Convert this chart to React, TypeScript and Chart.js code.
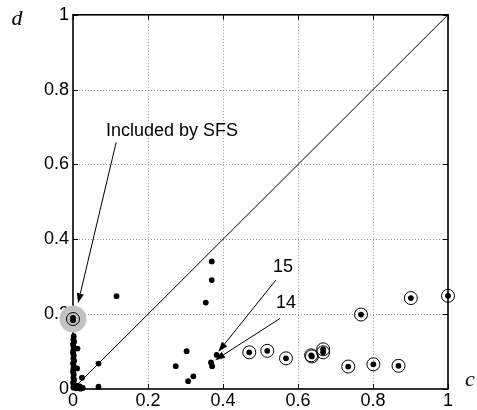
import { useEffect, useRef } from "react";
import { Chart, registerables } from "chart.js";

Chart.register(...registerables);

// ---- data ----
const X_TICKS = [0, 0.2, 0.4, 0.6, 0.8, 1];
const Y_TICKS = [0, 0.2, 0.4, 0.6, 0.8, 1];

// plain (un-circled) points
const plainC = [
  0.116, 0.37, 0.37, 0.354, 0.383, 0.368, 0.371, 0.303, 0.274, 0.307, 0.321,
  0.068, 0.068, 0.024, 0.012, 0.011,
  0.002, 0.001, 0.003, 0.0, 0.002, 0.001, 0.0, 0.002, 0.001, 0.003, 0.0, 0.002,
  0.001, 0.0, 0.002, 0.001, 0.003, 0.0, 0.002, 0.001,
  0.008, 0.014, 0.02, 0.026, 0.01, 0.018,
];
const plainD = [
  0.248, 0.341, 0.291, 0.231, 0.091, 0.071, 0.061, 0.101, 0.061, 0.021, 0.034,
  0.068, 0.006, 0.03, 0.108, 0.055,
  0.141, 0.133, 0.126, 0.119, 0.112, 0.104, 0.097, 0.09, 0.082, 0.075, 0.068, 0.061,
  0.053, 0.046, 0.039, 0.031, 0.024, 0.017, 0.01, 0.004,
  0.002, 0.004, 0.001, 0.003, 0.009, 0.007,
];

// circled points (dot + ring)
const circledC = [0.47, 0.518, 0.568, 0.635, 0.637, 0.667, 0.667, 0.734, 0.801, 0.868, 0.768, 0.901, 1.0];
const circledD = [0.098, 0.102, 0.082, 0.09, 0.087, 0.106, 0.098, 0.06, 0.066, 0.062, 0.199, 0.243, 0.249];

// feature included by SFS (highlighted)
const sfsC = [0, 0];
const sfsD = [0.184, 0.19];

// diagonal c = d
const diagC = [0, 1];
const diagD = [0, 1];

// annotations
const ANNOT_TEXT = ["Included by SFS", "15", "14"];
const ANNOT_C = [0.088, 0.56, 0.568];
const ANNOT_D = [0.689, 0.325, 0.231];
const ANNOT_ALIGN: CanvasTextAlign[] = ["left", "center", "center"];
const ARROW_FROM_C = [0.115, 0.541, 0.552];
const ARROW_FROM_D = [0.659, 0.291, 0.1885];
const ARROW_TO_C = [0.0133, 0.3875, 0.379];
const ARROW_TO_D = [0.229, 0.0995, 0.077];
const X_TITLE = "c";
const Y_TITLE = "d";

const FONT = "'Liberation Sans', Arial, Helvetica, sans-serif";
const SERIF = "'Liberation Serif', 'Times New Roman', serif";

const pts = (cs: number[], ds: number[]) => cs.map((c, i) => ({ x: c, y: ds[i] }));

const fmt = (v: number) => String(Number(Number(v).toFixed(1)));

const decor = {
  id: "decor",
  beforeDatasetsDraw(chart: any) {
    const { ctx, chartArea: a, scales } = chart;
    const xs = scales.x;
    const ys = scales.y;
    ctx.save();
    // dotted grid
    ctx.strokeStyle = "#9a9a9a";
    ctx.lineWidth = 1;
    ctx.setLineDash([1, 2]);
    X_TICKS.slice(1, -1).forEach((v) => {
      const px = Math.round(xs.getPixelForValue(v)) + 0.5;
      ctx.beginPath();
      ctx.moveTo(px, a.top);
      ctx.lineTo(px, a.bottom);
      ctx.stroke();
    });
    Y_TICKS.slice(1, -1).forEach((v) => {
      const py = Math.round(ys.getPixelForValue(v)) + 0.5;
      ctx.beginPath();
      ctx.moveTo(a.left, py);
      ctx.lineTo(a.right, py);
      ctx.stroke();
    });
    ctx.setLineDash([]);
    // frame
    ctx.strokeStyle = "#000";
    ctx.lineWidth = 1.6;
    ctx.strokeRect(a.left, a.top, a.right - a.left, a.bottom - a.top);
    // inward ticks
    ctx.lineWidth = 1;
    const tl = 5;
    X_TICKS.forEach((v) => {
      const px = Math.round(xs.getPixelForValue(v)) + 0.5;
      ctx.beginPath();
      ctx.moveTo(px, a.bottom);
      ctx.lineTo(px, a.bottom - tl);
      ctx.moveTo(px, a.top);
      ctx.lineTo(px, a.top + tl);
      ctx.stroke();
    });
    Y_TICKS.forEach((v) => {
      const py = Math.round(ys.getPixelForValue(v)) + 0.5;
      ctx.beginPath();
      ctx.moveTo(a.left, py);
      ctx.lineTo(a.left + tl, py);
      ctx.moveTo(a.right, py);
      ctx.lineTo(a.right - tl, py);
      ctx.stroke();
    });
    ctx.restore();
  },
  afterDatasetsDraw(chart: any) {
    const { ctx, chartArea: a, scales } = chart;
    const xs = scales.x;
    const ys = scales.y;
    ctx.save();
    // arrows
    ctx.strokeStyle = "#000";
    ctx.fillStyle = "#000";
    ctx.lineWidth = 1;
    ARROW_FROM_C.forEach((_, i) => {
      const x0 = xs.getPixelForValue(ARROW_FROM_C[i]);
      const y0 = ys.getPixelForValue(ARROW_FROM_D[i]);
      const x1 = xs.getPixelForValue(ARROW_TO_C[i]);
      const y1 = ys.getPixelForValue(ARROW_TO_D[i]);
      const ang = Math.atan2(y1 - y0, x1 - x0);
      const hl = 10;
      const hw = 3.5;
      const bx = x1 - hl * Math.cos(ang);
      const by = y1 - hl * Math.sin(ang);
      ctx.beginPath();
      ctx.moveTo(x0, y0);
      ctx.lineTo(bx, by);
      ctx.stroke();
      ctx.beginPath();
      ctx.moveTo(x1, y1);
      ctx.lineTo(bx + hw * Math.sin(ang), by - hw * Math.cos(ang));
      ctx.lineTo(bx - hw * Math.sin(ang), by + hw * Math.cos(ang));
      ctx.closePath();
      ctx.fill();
    });
    // annotation texts
    ctx.font = `18px ${FONT}`;
    ctx.textBaseline = "middle";
    ANNOT_TEXT.forEach((t, i) => {
      ctx.textAlign = ANNOT_ALIGN[i];
      ctx.fillText(t, xs.getPixelForValue(ANNOT_C[i]), ys.getPixelForValue(ANNOT_D[i]));
    });
    // axis titles
    ctx.font = `italic 22px ${SERIF}`;
    ctx.textAlign = "center";
    ctx.fillText(Y_TITLE, a.left - 56, a.top + 4);
    ctx.fillText(X_TITLE, a.right + 22, a.bottom - 9);
    ctx.restore();
  },
};

export default function App() {
  const ref = useRef<HTMLCanvasElement | null>(null);
  useEffect(() => {
    if (!ref.current) return;
    const chart = new Chart(ref.current, {
      type: "scatter",
      data: {
        datasets: [
          {
            label: "points",
            data: [...pts(plainC, plainD), ...pts(circledC, circledD), ...pts(sfsC, sfsD)],
            pointRadius: 2.9,
            pointBackgroundColor: "#000",
            pointBorderWidth: 0,
            clip: false,
            order: 1,
          } as any,
          {
            label: "rings",
            data: [...pts(circledC, circledD), { x: sfsC[0], y: (sfsD[0] + sfsD[1]) / 2 }],
            pointRadius: 6.5,
            pointBackgroundColor: "rgba(0,0,0,0)",
            pointBorderColor: "#000",
            pointBorderWidth: 1,
            clip: false,
            order: 2,
          } as any,
          {
            label: "diag",
            type: "line",
            data: pts(diagC, diagD),
            borderColor: "#000",
            borderWidth: 1,
            pointRadius: 0,
            fill: false,
            order: 3,
          } as any,
          {
            label: "sfs",
            data: [{ x: sfsC[0], y: (sfsD[0] + sfsD[1]) / 2 }],
            pointRadius: 13.5,
            pointBackgroundColor: "#c2c2c2",
            pointBorderWidth: 0,
            clip: false,
            order: 4,
          } as any,
        ],
      },
      options: {
        animation: false,
        responsive: true,
        maintainAspectRatio: false,
        events: [],
        layout: { padding: { top: 14, right: 29, left: 0, bottom: 0 } },
        plugins: { legend: { display: false }, tooltip: { enabled: false } },
        scales: {
          x: {
            type: "linear",
            min: 0,
            max: 1,
            afterBuildTicks: (s: any) => {
              s.ticks = X_TICKS.map((v) => ({ value: v }));
            },
            ticks: {
              callback: (v: any) => fmt(v),
              font: { family: FONT, size: 18 },
              color: "#000",
              padding: 1,
              maxRotation: 0,
              autoSkip: false,
            },
            grid: { display: false, drawTicks: false },
            border: { display: false },
            afterFit: (s: any) => {
              s.height = 21;
            },
          },
          y: {
            type: "linear",
            min: 0,
            max: 1,
            afterBuildTicks: (s: any) => {
              s.ticks = Y_TICKS.map((v) => ({ value: v }));
            },
            ticks: {
              callback: (v: any) => fmt(v),
              font: { family: FONT, size: 18 },
              color: "#000",
              padding: 4,
              autoSkip: false,
            },
            grid: { display: false, drawTicks: false },
            border: { display: false },
            afterFit: (s: any) => {
              s.width = 73;
            },
          },
        },
      },
      plugins: [decor],
    } as any);
    return () => chart.destroy();
  }, []);
  return (
    <div style={{ position: "absolute", left: 0, top: 0, width: 477, height: 410, background: "#fff" }}>
      <canvas ref={ref} />
    </div>
  );
}
